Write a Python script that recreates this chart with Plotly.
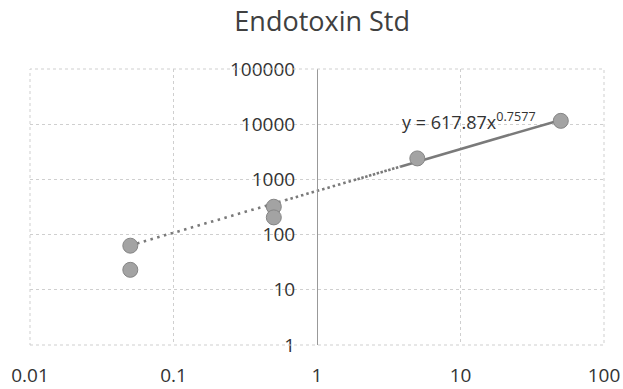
import numpy as np
import plotly.graph_objects as go

# Endotoxin standard: concentration vs. signal
conc = [0.05, 0.05, 0.5, 0.5, 5, 50]
signal = [63, 23, 320, 205, 2400, 11500]

# Power-law fit y = a * x^b
fit_a = 617.87
fit_b = 0.7577

x_ticks = [0.01, 0.1, 1, 10, 100]
x_ticktext = ["0.01", "0.1", "1", "10", "100"]
y_ticks = [1, 10, 100, 1000, 10000, 100000]
y_ticktext = ["1", "10", "100", "1000", "10000", "100000"]

FONT = "Open Sans"
GRID = "#cfcfcf"
TEXT = "#333333"

fig = go.Figure()

# trendline: dots get denser toward the high end, solid at the top
pieces = [
    (min(conc), 0.6, "2.5px,4.5px"),
    (0.6, 1.8, "2.5px,3px"),
    (1.8, 3.8, "2.5px,1.5px"),
    (3.8, max(conc), "solid"),
]
for lo, hi, dash in pieces:
    xs = np.logspace(np.log10(lo), np.log10(hi), 40)
    fig.add_trace(go.Scatter(
        x=xs, y=fit_a * xs ** fit_b, mode="lines",
        line=dict(color="#7a7a7a", width=2.6, dash=dash),
        hoverinfo="skip", showlegend=False,
    ))

fig.add_trace(go.Scatter(
    x=conc, y=signal, mode="markers",
    marker=dict(size=15, color="#a3a3a3", line=dict(color="#858585", width=1)),
    showlegend=False,
))

fig.add_annotation(
    x=np.log10(3.8), y=np.log10(11500), xref="x", yref="y",
    text=f"y = {fit_a}x<sup>{fit_b}</sup>", showarrow=False,
    xanchor="left", yanchor="middle",
    font=dict(family=FONT, size=18, color=TEXT),
)

# plot-area frame
fig.add_shape(type="rect", xref="paper", yref="paper", x0=0, x1=1, y0=0, y1=1,
              line=dict(color=GRID, width=1, dash="dot"))

fig.update_layout(
    width=623, height=389,
    margin=dict(l=30, r=19, t=69, b=44, autoexpand=False),
    paper_bgcolor="white", plot_bgcolor="white",
    title=dict(text="Endotoxin Std", x=0.509, xref="paper", xanchor="center",
               y=1 - 22 / 389, yref="container", yanchor="middle",
               font=dict(family=FONT, size=27, color="#404040")),
    xaxis=dict(type="log", range=[-2, 2], tickvals=x_ticks, ticktext=x_ticktext,
               automargin=False,
               showgrid=True, gridcolor=GRID, griddash="dot", gridwidth=1,
               showline=False, zeroline=False,
               ticks="outside", ticklen=13, tickcolor="rgba(0,0,0,0)",
               tickfont=dict(family=FONT, size=19, color=TEXT)),
    yaxis=dict(type="log", range=[0, 5], tickvals=y_ticks, ticktext=y_ticktext,
               anchor="free", position=0.5, automargin=False,
               showgrid=True, gridcolor=GRID, griddash="dot", gridwidth=1,
               showline=True, linecolor="#999999", linewidth=1, zeroline=False,
               ticks="outside", ticklen=18, tickcolor="rgba(0,0,0,0)",
               tickfont=dict(family=FONT, size=19, color=TEXT)),
)

fig.write_html("out.html")
